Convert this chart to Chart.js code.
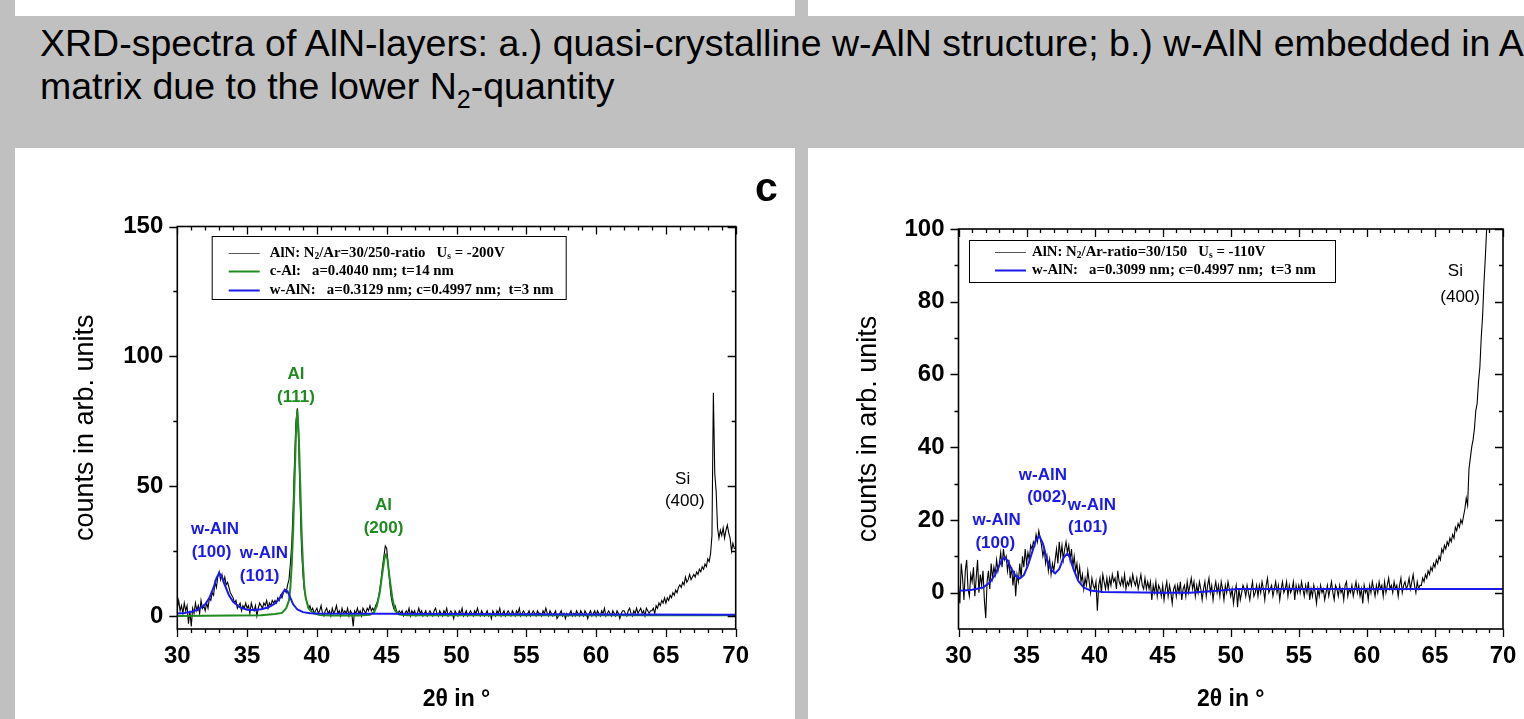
<!DOCTYPE html>
<html>
<head>
<meta charset="utf-8">
<script src="https://cdn.jsdelivr.net/npm/chart.js@4.4.0/dist/chart.umd.min.js"></script>
<style>
  body { margin: 0; width: 1524px; height: 719px; background: #c0c0c0; position: relative; overflow: hidden; font-family: "Liberation Sans", Arial, sans-serif; }
  .strip { position: absolute; background: #fff; }
  #title { position: absolute; left: 40px; top: 22px; font-size: 37.5px; line-height: 43px; white-space: nowrap; color: #000; }
  #title sub { font-size: 25px; line-height: 0; vertical-align: -9px; }
  .panel { position: absolute; background: #fff; top: 148px; height: 571px; }
  .panel canvas { display: block; }
  #mark { position: absolute; left: 755px; top: 164px; font: bold 41px "Liberation Sans", Arial, sans-serif; color: #000; }
</style>
</head>
<body>
<div class="strip" style="left:15px;top:0;width:780px;height:16px"></div>
<div class="strip" style="left:808px;top:0;width:716px;height:16px"></div>
<div id="title">XRD-spectra of AlN-layers: a.) quasi-crystalline w-AlN structure; b.) w-AlN embedded in Al<br>matrix due to the lower N<sub>2</sub>-quantity</div>
<div class="panel" style="left:15px;width:780px"><canvas id="chartA" width="780" height="571"></canvas></div>
<div class="panel" style="left:808px;width:716px"><canvas id="chartB" width="716" height="571"></canvas></div>
<div id="mark">c</div>

<script>
// ---- left panel: N2/Ar = 30/250, Us = -200V (measured, 0.1 deg steps from 30)
const startA = 30.0;
const stepA = 0.1;
const countsA = [
  3, 6, 2, 4, 1, 5, 2, 4, -3, 2,
  -4, 3, 1, 5, 2, 4, 1, 6, 3, 4,
  2, 5, 3, 7, 6, 9, 8, 13, 11, 15,
  17, 14, 16, 13, 15, 12, 13, 11, 9, 8,
  7, 5, 6, 3, 4, 5, 2, 4, 3, 5,
  3, 4, 1, 5, 3, 2, 4, 0, 3, 5,
  4, 3, 5, 4, 6, 3, 5, 4, 6, 5,
  6, 5, 7, 6, 8, 7, 9, 10, 9, 12,
  14, 20, 28, 42, 60, 75, 80, 66, 44, 26,
  16, 10, 7, 5, 3, 4, 2, 3, 1, 2,
  3, 1, 2, 4, 1, 0, 2, 3, 1, 2,
  0, 3, 1, 2, 4, 1, 2, 0, 3, 1,
  2, 1, 3, 0, 2, 1, -4, 2, 1, 3,
  1, 2, 0, 3, 2, 1, 3, 2, 4, 2,
  3, 2, 4, 5, 7, 10, 14, 19, 23, 27,
  26, 20, 14, 8, 5, 3, 4, 2, 1, 2,
  1, 2, 0, 1, 2, 1, 3, 0, 2, 1,
  2, 0, 1, 3, 1, 2, 0, 1, 2, 0,
  1, 2, 1, 0, 2, 3, 1, 0, 2, 1,
  0, 2, 1, 3, 0, 1, 2, 1, -1, 2,
  1, 0, 2, 1, 3, 0, 1, 2, 0, 1,
  2, 1, 0, 2, 1, 3, 1, 0, 2, 1,
  0, 1, 2, 0, 1, -1, 2, 1, 0, 2,
  1, 3, 0, 1, 2, 0, 1, 2, 1, 0,
  2, 1, 0, 2, 1, 3, 0, 1, 2, 1,
  0, 1, 2, 0, 1, 2, 1, 0, 2, 1,
  1, 0, 2, 1, 3, 1, 0, 2, 1, 0,
  1, 2, -1, 0, 1, 2, 0, 1, -1, 1,
  0, 1, 2, 0, 1, 0, 2, 1, 0, 2,
  1, 0, 2, 1, -1, 1, 2, 0, 1, 2,
  0, 2, 1, 0, 2, 1, 3, 0, 1, 2,
  1, 0, 2, 1, 0, 2, 1, -1, 1, 2,
  2, 1, 0, 2, 3, 1, 0, 2, 1, 3,
  1, 2, 3, 1, 2, 0, 3, 2, 1, 2,
  2, 3, 1, 4, 3, 5, 4, 6, 5, 7,
  5, 7, 6, 8, 7, 9, 8, 10, 9, 11,
  12, 11, 13, 12, 15, 13, 14, 16, 14, 15,
  16, 15, 17, 16, 18, 17, 19, 18, 20, 19,
  22, 21, 24, 31, 86, 55, 48, 34, 30, 33,
  31, 34, 30, 33, 35, 32, 30, 25, 28, 26,
  26
];

// c-Al fit (green)
const cAlX = [30, 36, 37, 37.5, 37.8, 38.0, 38.1, 38.2, 38.3, 38.4, 38.5, 38.6, 38.7, 38.8, 38.9, 39.0, 39.1, 39.2, 39.4, 39.7, 40.2, 41, 43, 43.8, 44.1, 44.3, 44.5, 44.7, 44.85, 44.95, 45.05, 45.2, 45.4, 45.6, 45.9, 46.5, 50, 70];
const cAlY = [0, 0.3, 0.8, 1.2, 3, 6, 11, 20, 33, 52, 70, 79.4, 70, 52, 33, 20, 11, 7, 3, 1.2, 0.4, 0.2, 0.2, 0.5, 1.5, 4, 9, 17, 22.5, 23.6, 22, 15, 7, 2, 0.6, 0.3, 0.3, 0.3];

// w-AlN fit (blue)
const wAlnAX = [30, 30.5, 31, 31.5, 32, 32.3, 32.6, 32.8, 33.0, 33.2, 33.4, 33.7, 34.0, 34.5, 35, 35.5, 36, 36.5, 37.0, 37.3, 37.5, 37.7, 37.9, 38.1, 38.3, 38.6, 39.0, 39.5, 40, 45, 55, 70];
const wAlnAY = [1, 1.2, 1.6, 2.5, 4.5, 7, 11, 14.5, 16.6, 15, 12, 8, 5.5, 3.3, 2.4, 2.3, 2.6, 3.3, 4.8, 6.5, 8.5, 10.2, 9.5, 7, 4.5, 2.5, 1.5, 1.1, 1.0, 0.9, 0.7, 0.5];

// ---- right panel: N2/Ar = 30/150, Us = -110V
const startB = 30.0;
const stepB = 0.1;
const countsB = [
  2, -3, 8, 4, -2, 6, 9, 1, -1, 5,
  3, 7, -1, 4, 9, 0, 5, 2, 6, -2,
  -7, 3, 6, 1, 8, 4, 7, 5, 9, 6,
  8, 11, 7, 12, 9, 10, 6, 9, 4, 7,
  2, 6, -1, 5, 3, 8, 4, 10, 7, 12,
  8, 11, 9, 13, 12, 14, 13, 16, 14, 17,
  15, 13, 10, 12, 8, 10, 6, 9, 5, 8,
  6, 9, 12, 8, 14, 10, 13, 9, 12, 14,
  11, 13, 9, 12, 7, 10, 6, 8, 4, 7,
  3, 5, 1, 4, 2, 6, 3, 0, 4, 2,
  1, 3, -5, 2, 4, 0, 5, 3, 1, 4,
  1, 4, 2, 5, 3, 4, 1, 6, 3, 2,
  4, 2, 5, 1, 3, 2, 4, 2, 5, 3,
  2, 4, 1, 3, 5, 2, 1, 4, 1, 3,
  1, 3, -2, 2, 0, 3, -1, 2, 1, -1,
  2, -2, 1, 3, -1, 2, 0, -3, 1, 2,
  -1, 2, 0, 3, -2, 1, 2, -1, 3, 0,
  2, 4, 1, 3, -1, 2, 0, 3, 1, -2,
  1, 3, -1, 2, 4, 0, 2, -2, 1, 3,
  0, 2, -1, 3, 1, -2, 2, 0, 3, 1,
  -1, 1, -3, 0, 2, -4, 1, -2, 0, 2,
  1, -1, 2, 0, -2, 1, 3, -1, 0, 2,
  -1, 2, 0, 3, 1, -2, 2, 4, 0, 1,
  2, -1, 1, 3, 0, 2, -2, 1, 3, 0,
  1, 3, -1, 2, 0, 1, 3, -2, 2, 0,
  2, 0, 3, 1, -1, 2, 0, 3, -2, 1,
  -1, 2, 0, -3, 1, -1, 2, 0, 1, -2,
  0, 2, -1, 1, 3, 0, -2, 2, 1, -1,
  2, 0, 1, -2, 2, 3, -1, 1, 0, 2,
  -1, 1, 3, 0, 2, -1, 1, -3, 2, 0,
  1, -2, 2, 0, 3, 1, -1, 2, 0, 3,
  1, 2, -1, 3, 0, 2, 4, 1, 2, 0,
  3, 1, 2, -1, 2, 4, 0, 2, 3, 1,
  2, 4, 1, 3, 5, 2, 0, 3, 1, 2,
  2, 4, 3, 5, 4, 6, 5, 7, 6, 8,
  7, 9, 8, 10, 9, 12, 11, 13, 12, 14,
  13, 15, 14, 16, 15, 18, 17, 19, 18, 20,
  19, 21, 23, 26, 24, 34, 37, 40, 42, 45,
  50, 52, 58, 62, 70, 76, 85, 92, 100, 106,
  112
];

// w-AlN fit (blue)
const wAlnBX = [30.1, 31, 31.8, 32.3, 32.7, 33.0, 33.2, 33.4, 33.6, 33.9, 34.2, 34.5, 34.8, 35.1, 35.4, 35.7, 35.94, 36.2, 36.5, 36.8, 37.1, 37.4, 37.7, 38.0, 38.2, 38.44, 38.8, 39.2, 39.7, 40.6, 45, 47, 49, 50.5, 70];
const wAlnBY = [0.5, 0.8, 1.4, 2.8, 5, 7.5, 9, 9.7, 8.8, 6.5, 4.6, 3.9, 4.8, 7.5, 11, 14.5, 15.6, 13.5, 9.2, 6.3, 5.3, 6.5, 9.5, 10.8, 9.5, 6.5, 3.2, 1.4, 0.6, 0.2, 0, 0, 0.5, 1.0, 1.0];

const xTicks = [30, 35, 40, 45, 50, 55, 60, 65, 70];
const yTicksA = [0, 50, 100, 150];
const yTicksB = [0, 20, 40, 60, 80, 100];

// legend rows, "_x" = subscript
const legendA = ['AlN: N_2/Ar=30/250-ratio   U_s = -200V', 'c-Al:   a=0.4040 nm; t=14 nm', 'w-AlN:   a=0.3129 nm; c=0.4997 nm;  t=3 nm'];
const legendB = ['AlN: N_2/Ar-ratio=30/150   U_s = -110V', 'w-AlN:   a=0.3099 nm; c=0.4997 nm;  t=3 nm'];

// peak labels [text, 2theta, counts]
const peaksAlA = [['Al', 38.5, 92.9], ['(111)', 38.5, 84.1], ['Al', 44.77, 42.5], ['(200)', 44.77, 33.7]];
const peaksAlnA = [['w-AlN', 32.7, 33.3], ['(100)', 32.45, 24.6], ['w-AlN', 36.2, 24.0], ['(101)', 35.9, 15.2]];
const peaksSiA = [['Si', 66.2, 52.5], ['(400)', 66.35, 44.0]];
const peaksAlnB = [['w-AlN', 32.8, 19.9], ['(100)', 32.7, 13.6], ['w-AlN', 36.2, 32.3], ['(002)', 36.5, 26.2], ['w-AlN', 39.8, 24.0], ['(101)', 39.5, 18.0]];
const peaksSiB = [['Si', 66.5, 88.3], ['(400)', 66.85, 81.2]];

const BLACK = '#000000';
const GREEN = '#1f8a1f';
const BLUE = '#1a1aee';
const FONT = '"Liberation Sans", Arial, sans-serif';

function toPoints(start, step, values) {
  return values.map((v, i) => ({ x: +(start + i * step).toFixed(2), y: v }));
}
function pairPoints(xs, ys) {
  return xs.map((x, i) => ({ x: x, y: ys[i] }));
}

// box frame with Origin-style ticks
const framePlugin = {
  id: 'frame',
  afterDatasetsDraw(chart, args, opts) {
    const { ctx, chartArea: a, scales: { x, y } } = chart;
    ctx.save();
    ctx.strokeStyle = '#000';
    ctx.lineWidth = 1.6;
    ctx.strokeRect(a.left, a.top, a.right - a.left, a.bottom - a.top);
    ctx.lineWidth = 1.3;
    ctx.beginPath();
    for (let v = x.min; v <= x.max; v += 1) {
      const px = Math.round(x.getPixelForValue(v)) + 0.5;
      const len = v % 5 === 0 ? 8 : 4;
      ctx.moveTo(px, a.bottom); ctx.lineTo(px, a.bottom + len);
      ctx.moveTo(px, a.top); ctx.lineTo(px, a.top + len);
    }
    for (let v = 0; v <= y.max; v += opts.minor) {
      const py = Math.round(y.getPixelForValue(v)) + 0.5;
      const len = v % opts.major === 0 ? 8 : 4;
      ctx.moveTo(a.left, py); ctx.lineTo(a.left - len, py);
      ctx.moveTo(a.right, py); ctx.lineTo(a.right - len, py);
    }
    ctx.stroke();
    ctx.restore();
  }
};

const peakPlugin = {
  id: 'peaks',
  afterDatasetsDraw(chart, args, opts) {
    const { ctx, scales: { x, y } } = chart;
    ctx.save();
    ctx.textAlign = 'center';
    ctx.textBaseline = 'middle';
    opts.groups.forEach(g => {
      ctx.fillStyle = g.color;
      ctx.font = g.font;
      g.items.forEach(([t, vx, vy]) => ctx.fillText(t, x.getPixelForValue(vx), y.getPixelForValue(vy)));
    });
    ctx.restore();
  }
};

function drawRich(ctx, text, x, y) {
  const parts = text.split(/_(.)/);
  parts.forEach((p, i) => {
    if (i % 2 === 1) {
      ctx.font = 'bold 9.5px "Liberation Serif", serif';
      ctx.fillText(p, x, y + 3.5);
    } else {
      ctx.font = 'bold 14.8px "Liberation Serif", serif';
      ctx.fillText(p, x, y);
    }
    x += ctx.measureText(p).width;
  });
}

const boxLegendPlugin = {
  id: 'boxLegend',
  afterDatasetsDraw(chart, args, opts) {
    const { ctx, chartArea: a } = chart;
    const bx = a.left + opts.dx, by = a.top + opts.dy;
    ctx.save();
    ctx.fillStyle = '#fff';
    ctx.fillRect(bx, by, opts.w, opts.h);
    ctx.strokeStyle = '#000';
    ctx.lineWidth = 1;
    ctx.strokeRect(bx + 0.5, by + 0.5, opts.w, opts.h);
    ctx.textBaseline = 'middle';
    ctx.textAlign = 'left';
    opts.rows.forEach((r, i) => {
      const ry = by + opts.first + i * opts.gap;
      ctx.strokeStyle = opts.colors[i];
      ctx.lineWidth = i === 0 ? 1 : 2;
      ctx.beginPath();
      ctx.moveTo(bx + opts.lineX, Math.round(ry) + 0.5);
      ctx.lineTo(bx + opts.lineX + 31, Math.round(ry) + 0.5);
      ctx.stroke();
      ctx.fillStyle = '#000';
      drawRich(ctx, r, bx + opts.textX, ry);
    });
    ctx.restore();
  }
};

function buildChart(id, o) {
  return new Chart(document.getElementById(id), {
    type: 'line',
    data: { datasets: o.datasets },
    options: {
      responsive: false,
      animation: false,
      devicePixelRatio: 1,
      layout: { padding: o.padding },
      elements: { point: { radius: 0 }, line: { tension: 0 } },
      plugins: {
        legend: { display: false },
        tooltip: { enabled: false },
        frame: { minor: o.minor, major: o.major },
        peaks: { groups: o.peaks },
        boxLegend: o.legend
      },
      scales: {
        x: {
          type: 'linear', min: 30, max: 70,
          grid: { display: false, drawTicks: true, tickLength: 8 },
          border: { display: false },
          afterBuildTicks: s => { s.ticks = xTicks.map(v => ({ value: v })); },
          afterFit: s => { s.height = 90; },
          ticks: { autoSkip: false, maxRotation: 0, padding: 5, color: '#000', font: { family: FONT, size: 24, weight: 'bold' } },
          title: { display: true, text: '2θ in °', color: '#000', font: { family: FONT, size: 23, weight: 'bold' }, padding: { top: 0, bottom: 6 } }
        },
        y: {
          type: 'linear', min: o.yMin, max: o.yMax,
          grid: { display: false, drawTicks: true, tickLength: 8 },
          border: { display: false },
          afterBuildTicks: s => { s.ticks = o.yTicks.map(v => ({ value: v })); },
          afterFit: s => { s.width = o.yWidth; },
          ticks: { autoSkip: false, padding: 6, color: '#000', font: { family: FONT, size: 24, weight: 'bold' } },
          title: { display: true, text: 'counts in arb. units', color: '#000', font: { family: FONT, size: 27 }, padding: { top: o.yTitlePad, bottom: 0 } }
        }
      }
    },
    plugins: [framePlugin, peakPlugin, boxLegendPlugin]
  });
}

const labelFont = 'bold 17px ' + FONT;
const siFont = '17px ' + FONT;

buildChart('chartA', {
  datasets: [
    { data: toPoints(startA, stepA, countsA), borderColor: BLACK, borderWidth: 1.1, order: 3 },
    { data: pairPoints(cAlX, cAlY), borderColor: GREEN, borderWidth: 2, order: 2 },
    { data: pairPoints(wAlnAX, wAlnAY), borderColor: BLUE, borderWidth: 2, order: 1 }
  ],
  padding: { left: 0, top: 78.5, right: 59.3, bottom: 0 },
  yWidth: 162.3, yTitlePad: 54,
  yMin: -5, yMax: 150, yTicks: yTicksA, minor: 25, major: 50,
  peaks: [
    { color: GREEN, font: labelFont, items: peaksAlA },
    { color: BLUE, font: labelFont, items: peaksAlnA },
    { color: '#000', font: siFont, items: peaksSiA }
  ],
  legend: { dx: 34.4, dy: 9.5, w: 354, h: 63, first: 17, gap: 18.4, lineX: 17, textX: 58, rows: legendA, colors: ['#555', GREEN, BLUE] }
});

buildChart('chartB', {
  datasets: [
    { data: toPoints(startB, stepB, countsB), borderColor: BLACK, borderWidth: 1.1, order: 2 },
    { data: pairPoints(wAlnBX, wAlnBY), borderColor: BLUE, borderWidth: 2, order: 1 }
  ],
  padding: { left: 0, top: 81, right: 21, bottom: 0 },
  yWidth: 150.5, yTitlePad: 44,
  yMin: -10, yMax: 100, yTicks: yTicksB, minor: 10, major: 20,
  peaks: [
    { color: BLUE, font: labelFont, items: peaksAlnB },
    { color: '#000', font: siFont, items: peaksSiB }
  ],
  legend: { dx: 10.5, dy: 11, w: 366, h: 42, first: 12, gap: 18, lineX: 26, textX: 63, rows: legendB, colors: ['#555', BLUE] }
});
</script>
</body>
</html>
